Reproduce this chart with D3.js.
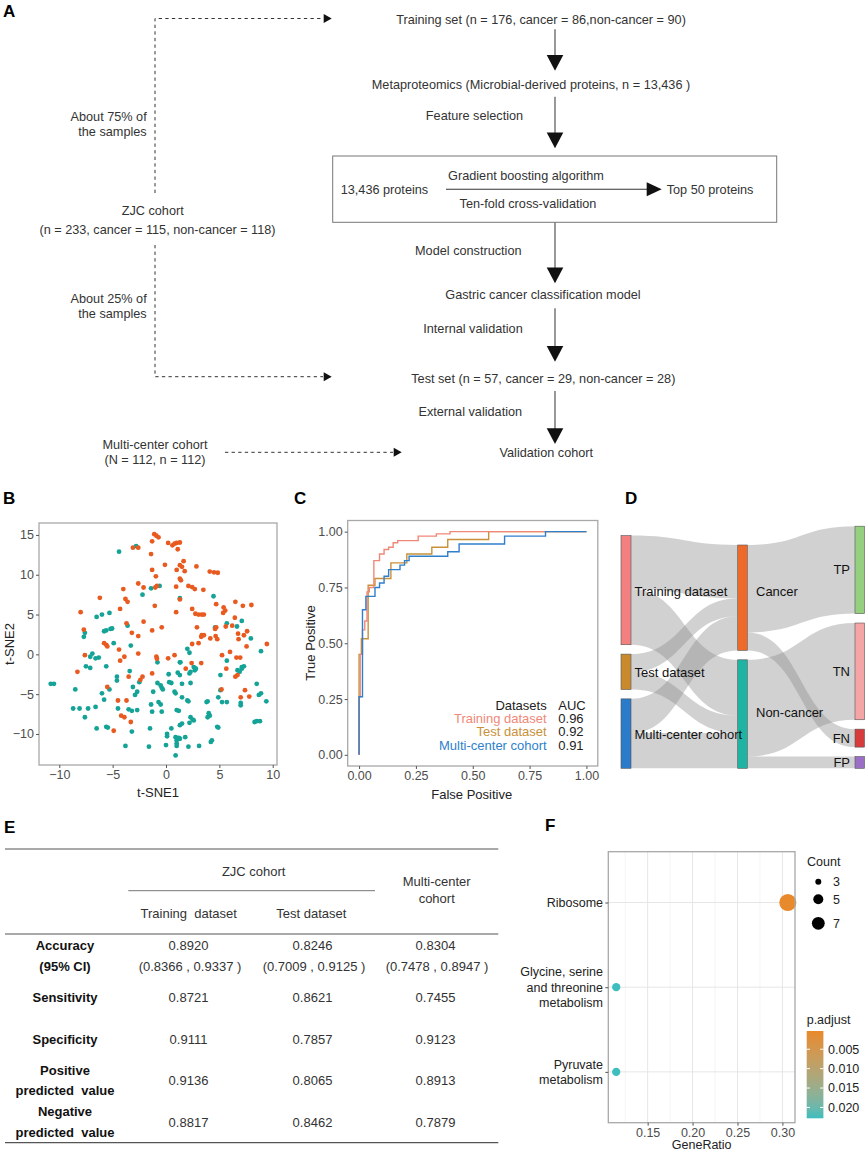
<!DOCTYPE html>
<html><head><meta charset="utf-8">
<script src="https://cdn.jsdelivr.net/npm/d3@7"></script>
<style>
body{margin:0;background:#fff}
svg{display:block}
text{font-family:"Liberation Sans",Arial,Helvetica,sans-serif;white-space:pre}
</style>
</head><body>
<svg id="c" width="865" height="1153"></svg>
<script>
// ---------------- DATA ----------------
// Panel A flowchart texts
const flowMain = ["Training set (n = 176, cancer = 86,non-cancer = 90)",
  "Metaproteomics (Microbial-derived proteins, n = 13,436 )",
  "Gastric cancer classification model",
  "Test set (n = 57, cancer = 29, non-cancer = 28)",
  "Validation cohort"];
const flowSide = ["Feature selection","Model construction","Internal validation","External validation"];
const boxTexts = ["13,436 proteins","Gradient boosting algorithm","Ten-fold cross-validation","Top 50 proteins"];
const cohortTexts = [["About 75% of","the samples"],["ZJC cohort","(n = 233, cancer = 115, non-cancer = 118)"],["About 25% of","the samples"],["Multi-center cohort","(N = 112, n = 112)"]];

// Panel B t-SNE
const tsneCancer = [
[-1.1,15.1],[-0.9,14.9],[-0.7,14.7],[-1.3,14.2],[-3.1,13.4],[-2.6,13.4],[0.2,14.0],[0.6,13.7],[0.8,13.9],[1.0,14.0],[1.3,14.05],[1.1,13.2],[-1.4,12.6],
[1.65,11.7],[1.3,11.2],[1.5,11.0],[1.75,10.45],[1.0,10.6],[-0.1,11.25],[2.85,11.05],[-1.3,10.6],[-0.95,9.8],[1.3,9.5],[1.4,9.3],[4.1,10.4],[4.5,10.3],[4.85,10.25],
[-4.0,8.2],[-2.6,8.9],[-2.1,8.4],[-0.85,8.6],[-1.0,8.4],[0.95,8.5],[2.1,8.6],[2.45,8.45],[2.7,8.2],[3.5,8.1],[-6.2,7.1],[-3.8,6.95],[-3.6,6.6],[1.3,6.9],[-1.05,6.1],[-4.3,5.7],[-8.0,5.3],[0.95,5.3],[2.45,5.7],[2.75,5.1],[3.05,5.0],[3.35,5.0],[3.55,5.0],[4.7,6.3],[5.4,5.9],[5.55,5.5],[5.35,5.2],[6.5,6.6],[7.2,6.1],[8.0,6.2],[6.45,4.6],
[-7.7,3.1],[-7.6,-0.1],[-5.8,1.4],[-5.6,1.2],[-5.5,1.0],[-4.4,0.6],[-3.9,-0.3],[-4.3,-0.8],[-3.7,3.9],[-3.2,2.7],[-2.6,2.3],[-2.1,4.1],[-2.6,0.1],[-1.3,3.0],[-0.4,3.4],[-0.9,-0.3],[-0.85,-0.55],[0.2,-0.5],[0.8,-0.1],
[4.7,3.4],[4.6,3.2],[2.9,3.4],[7.6,2.9],[7.3,2.4],[6.8,1.9],[3.35,2.4],[3.55,2.4],[3.3,2.2],[4.15,2.0],[4.65,2.3],[4.8,1.9],[2.45,1.3],[3.05,1.4],[9.45,1.3],[5.25,-0.1],[6.0,0.3],[6.6,-0.4],[6.95,-0.4],[5.65,-1.8],[6.5,-2.8],[6.7,-2.6],[7.0,-5.4],[7.4,-4.5],[7.8,-5.3],[5.2,-4.4],[1.85,-1.8],[2.4,-1.1],[3.3,-1.1],
[-8.3,-2.2],[-5.5,-4.1],[-4.5,-5.8],[-3.7,-5.8],[-4.2,-7.7],[-3.9,-7.9],[-3.3,-8.5],[-4.9,-9.6],[-3.5,-2.8],[-2.4,-3.2],[-2.2,-2.8],[-1.3,-2.4],[7.55,1.0],[6.75,2.6],[6.2,3.6],[5.6,3.5]
];
const tsneNonCancer = [
[-2.8,13.6],[-4.4,12.9],[-1.4,8.3],[-0.6,8.6],[-2.2,7.5],[4.45,7.3],[1.3,7.05],
[-6.5,4.7],[-6.0,5.0],[-5.3,5.2],[-5.6,3.0],[-5.2,3.2],[-5.05,3.25],[-5.8,2.9],[-3.6,3.6],[-7.7,2.2],[-7.6,2.7],[-4.9,1.4],[-3.3,1.1],[-6.9,0.1],[-7.1,-0.3],[-6.6,-0.5],[-6.3,-0.4],
[-7.5,-1.5],[-7.1,-1.7],[-5.6,-1.5],[-8.5,-4.4],[-10.8,-3.7],[-10.5,-3.7],[-8.7,-6.8],[-8.1,-6.8],[-7.6,-7.9],[-7.3,-6.8],[-6.6,-6.6],[-6.5,-9.3],[-5.3,-4.4],[-6.0,-4.9],[-5.8,-5.7],[-5.6,-9.1],[-5.45,-9.2],[-4.5,-6.8],[-4.6,-2.8],[-4.6,-3.3],[-3.8,-11.5],[-3.4,-2.1],[-3.5,-6.9],[-3.2,-7.1],[-3.2,-9.7],[-3.1,-4.1],[-2.9,-5.1],[-2.7,-4.7],[-2.7,-7.0],[-2.5,-3.5],[-1.6,-11.6],[-1.5,-9.3],[-1.3,-7.2],[-1.4,-6.3],[-1.2,-4.7],[-0.8,-1.0],
[-0.8,-3.6],[-0.5,-3.9],[-0.4,-4.2],[-0.3,-4.4],[-0.7,-6.0],[-0.5,-6.3],[-0.4,-7.2],[0.1,-10.0],[0.1,-10.3],[0.0,-11.4],[0.5,-9.3],[0.25,-2.5],[0.3,-3.5],[0.5,-3.6],[0.8,-4.7],[0.9,-4.9],[0.9,-10.4],[1.0,-10.8],[1.0,-11.2],[1.0,-11.5],[0.9,-12.7],[1.2,-10.5],[1.3,-10.6],[1.8,-10.4],[1.3,-8.9],[1.5,-8.7],[1.0,-7.0],[1.2,-7.1],[1.1,-2.3],[1.3,-2.6],[1.5,-3.7],[1.3,-1.0],[1.5,-5.4],[2.0,-5.8],[2.1,-5.9],[2.2,-2.4],[2.3,-2.2],[2.3,-3.6],[2.1,-11.6],[2.3,-7.9],[2.5,-8.2],[2.6,-8.3],[2.2,-8.6],[2.8,-1.8],[2.7,-2.0],[3.1,-11.5],[3.8,-6.0],[3.9,-5.9],[4.0,-7.4],[4.1,-7.7],[3.9,-7.9],[4.2,-11.0],[4.3,-10.8],[4.8,-9.1],[4.9,-9.2],[4.9,-5.4],[5.1,-4.5],[5.1,-2.6],[5.25,-6.0],[5.7,-6.0],[5.7,-0.8],[6.7,-2.0],[6.9,-2.2],[7.1,-1.8],[7.3,-1.5],[7.0,-6.1],[7.0,-6.4],[8.3,-8.5],[8.5,-8.4],[8.8,-8.4],[8.5,-3.7],[8.7,-5.1],[8.9,-4.9],[9.4,-5.9],
[2.0,0.7],[2.2,0.2],[8.9,0.4],[7.95,2.0],[5.7,3.9],[6.65,3.5],[7.1,4.2],[4.6,3.4],[1.35,-1.0],[2.6,-1.6],[2.75,-1.8],[7.1,-1.6]
];
const tsneTicks = [-10,-5,0,5,10,15];

// Panel C ROC
const rocNames = ["Training dataset","Test dataset","Multi-center cohort"];
const rocAUC = ["0.96","0.92","0.91"];
const rocTraining = [[0,0],[0,0.26],[0.005,0.26],[0.005,0.45],[0.015,0.45],[0.015,0.56],[0.025,0.56],[0.025,0.6],[0.035,0.6],[0.035,0.73],[0.045,0.73],[0.045,0.75],[0.065,0.75],[0.065,0.87],[0.09,0.87],[0.09,0.9],[0.11,0.9],[0.11,0.92],[0.13,0.92],[0.13,0.93],[0.15,0.93],[0.15,0.95],[0.17,0.95],[0.17,0.96],[0.26,0.96],[0.26,0.98],[0.34,0.98],[0.34,0.99],[0.4,0.99],[0.4,1],[1,1]];
const rocTest = [[0,0],[0,0.45],[0.01,0.45],[0.01,0.52],[0.04,0.52],[0.04,0.76],[0.07,0.76],[0.07,0.79],[0.14,0.79],[0.14,0.86],[0.21,0.86],[0.21,0.9],[0.32,0.9],[0.32,0.93],[0.39,0.93],[0.39,0.965],[0.57,0.965],[0.57,1],[1,1]];
const rocMulti = [[0,0],[0,0.26],[0.015,0.26],[0.015,0.65],[0.03,0.65],[0.03,0.71],[0.07,0.71],[0.07,0.75],[0.09,0.75],[0.09,0.77],[0.11,0.77],[0.11,0.8],[0.13,0.8],[0.13,0.83],[0.18,0.83],[0.18,0.85],[0.2,0.85],[0.2,0.87],[0.22,0.87],[0.22,0.89],[0.39,0.89],[0.39,0.91],[0.44,0.91],[0.44,0.945],[0.64,0.945],[0.64,0.98],[0.82,0.98],[0.82,1],[1,1]];
const rocTicks = [0,0.25,0.5,0.75,1];

// Panel D Sankey
const sDatasets = ["Training dataset","Test dataset","Multi-center cohort"];
const sStatus = ["Cancer","Non-cancer"];
const sOutcome = ["TP","TN","FN","FP"];
const cancerCounts = [86,29,55];
const nonCancerCounts = [90,28,57];
const tpCounts = [75,25,41];
const fnCounts = [11,4,14];
const tnCounts = [82,22,52];
const fpCounts = [8,6,5];

// Panel E table
const tableCols = ["Training  dataset","Test dataset"];
const metricLabels = [["Accuracy","(95% CI)"],["Sensitivity"],["Specificity"],["Positive","predicted  value"],["Negative","predicted  value"]];
const trainingVals = ["0.8920","0.8721","0.9111","0.9136","0.8817"];
const testVals = ["0.8246","0.8621","0.7857","0.8065","0.8462"];
const multiVals = ["0.8304","0.7455","0.9123","0.8913","0.7879"];
const accuracyCI = ["(0.8366 , 0.9337 )","(0.7009 , 0.9125 )","(0.7478 , 0.8947 )"];

// Panel F enrichment
const pathways = [["Ribosome"],["Glycine, serine","and threonine","metabolism"],["Pyruvate","metabolism"]];
const geneRatio = [0.306,0.115,0.115];
const geneCount = [11,4,4];
const pAdjust = [0.0003,0.0228,0.0228];
const ratioTicks = [0.15,0.20,0.25,0.30];
const countBreaks = [3,5,7];
const pTicks = [0.005,0.010,0.015,0.020];

// ---------------- DRAW ----------------
const svg = d3.select("#c");
svg.append("rect").attr("width",865).attr("height",1153).attr("fill","#fff");

function txt(g,x,y,s,o={}){
  return g.append("text").attr("x",x).attr("y",y).attr("dy","0.35em")
    .attr("text-anchor",o.anchor||"start").attr("font-size",o.size||12)
    .attr("font-weight",o.weight||"normal").attr("fill",o.fill||"#333").text(s);
}
function label(x,y,s){ txt(svg,x,y,s,{size:17,weight:"bold",fill:"#000"}); }

// ===== Panel A =====
const A = svg.append("g");
const fa = 12.7;
label(3,11,"A");
const mainPos = [[541,19.3],[531,85],[543,295],[543.3,378.3],[546.3,452.7]];
flowMain.forEach((s,i)=>txt(A,mainPos[i][0],mainPos[i][1],s,{anchor:"middle",size:fa}));
const sidePos = [[474.5,116],[468.3,250.7],[473,329],[470.3,411.7]];
flowSide.forEach((s,i)=>txt(A,sidePos[i][0],sidePos[i][1],s,{anchor:"middle",size:fa}));
const vArrows = [[29.3,70.7],[96.7,148.3],[222.3,283.3],[308.3,361.7],[391,444]];
const ax = 555;
vArrows.forEach(([y0,y1])=>{
  A.append("line").attr("x1",ax).attr("x2",ax).attr("y1",y0).attr("y2",y1-14).attr("stroke","#444").attr("stroke-width",1.1);
  A.append("path").attr("d",`M${ax-8.3},${y1-15.7}L${ax+8.3},${y1-15.7}L${ax},${y1}Z`).attr("fill","#111");
});
A.append("rect").attr("x",332.7).attr("y",156).attr("width",444).attr("height",66.3).attr("fill","none").attr("stroke","#777").attr("stroke-width",1);
txt(A,340.7,190,boxTexts[0],{size:fa});
txt(A,526,175.7,boxTexts[1],{anchor:"middle",size:fa});
txt(A,528,203.3,boxTexts[2],{anchor:"middle",size:fa});
txt(A,666.7,190,boxTexts[3],{size:fa});
A.append("line").attr("x1",446).attr("x2",648).attr("y1",189.3).attr("y2",189.3).attr("stroke","#333").attr("stroke-width",1.1);
A.append("path").attr("d","M646.7,182.3L661.7,189.3L646.7,196.3Z").attr("fill","#111");
// dashed
const dash = "3.3,3.3";
function dashedArrow(d, tipX, tipY){
  A.append("path").attr("d",d).attr("fill","none").attr("stroke","#333").attr("stroke-width",1).attr("stroke-dasharray",dash);
  A.append("path").attr("d",`M${tipX-8},${tipY-4.5}L${tipX},${tipY}L${tipX-8},${tipY+4.5}Z`).attr("fill","#111");
}
dashedArrow("M155,193V18.5H323",331.7,18.5);
dashedArrow("M155,245V376.7H323",331.7,376.7);
dashedArrow("M225,452.3H393",401.7,452.3);
txt(A,146.7,116.7,cohortTexts[0][0],{anchor:"end",size:fa});
txt(A,146.7,131.7,cohortTexts[0][1],{anchor:"end",size:fa});
txt(A,152.7,211,cohortTexts[1][0],{anchor:"middle",size:fa});
txt(A,157.5,230,cohortTexts[1][1],{anchor:"middle",size:fa});
txt(A,146.7,299,cohortTexts[2][0],{anchor:"end",size:fa});
txt(A,146.7,314,cohortTexts[2][1],{anchor:"end",size:fa});
txt(A,155,444.3,cohortTexts[3][0],{anchor:"middle",size:fa});
txt(A,155,460,cohortTexts[3][1],{anchor:"middle",size:fa});

// ===== Panel B =====
label(3,498,"B");
const B = svg.append("g");
const bx = d3.scaleLinear([-11.9,10.4],[39,277]);
const by = d3.scaleLinear([-13.9,16.5],[765,523]);
B.append("rect").attr("x",39).attr("y",523).attr("width",238).attr("height",242).attr("fill","#fff");
B.selectAll("circle.nc").data(tsneNonCancer).join("circle").attr("class","nc")
  .attr("cx",d=>bx(d[0])).attr("cy",d=>by(d[1])).attr("r",2.4).attr("fill","#14A396");
B.selectAll("circle.ca").data(tsneCancer).join("circle").attr("class","ca")
  .attr("cx",d=>bx(d[0])).attr("cy",d=>by(d[1])).attr("r",2.4).attr("fill","#E85A1F");
B.append("rect").attr("x",39).attr("y",523).attr("width",238).attr("height",242).attr("fill","none").attr("stroke","#A8A8A8").attr("stroke-width",1.3);
function styleAxis(g){
  g.select(".domain").remove();
  g.selectAll(".tick line").attr("stroke","#555");
  g.selectAll(".tick text").attr("fill","#4D4D4D").attr("font-size",12.5).attr("font-family","Liberation Sans, Arial, sans-serif");
}
B.append("g").attr("transform","translate(39,0)").call(d3.axisLeft(by).tickValues(tsneTicks).tickSize(3).tickPadding(2)).call(styleAxis);
B.append("g").attr("transform","translate(0,765)").call(d3.axisBottom(bx).tickValues([-10,-5,0,5,10]).tickSize(3).tickPadding(2)).call(styleAxis);
txt(B,158,792,"t-SNE1",{anchor:"middle",size:13,fill:"#222"});
B.append("text").attr("transform","translate(9,644) rotate(-90)").attr("dy","0.35em").attr("text-anchor","middle").attr("font-size",13).attr("fill","#222").text("t-SNE2");

// ===== Panel C =====
label(294,498,"C");
const C = svg.append("g");
const cx = d3.scaleLinear([-0.05,1.05],[347.7,597.8]);
const cy = d3.scaleLinear([-0.05,1.05],[766,520.5]);
C.append("rect").attr("x",347.7).attr("y",520.5).attr("width",250.1).attr("height",245.5).attr("fill","#fff").attr("stroke","#A8A8A8").attr("stroke-width",1.3);
const rocLine = d3.line().x(d=>cx(d[0])).y(d=>cy(d[1]));
const rocColors = ["#F0887A","#C9913A","#2F7FCB"];
[[rocTest,1],[rocTraining,0],[rocMulti,2]].forEach(([d,i])=>{
  C.append("path").attr("d",rocLine(d)).attr("fill","none").attr("stroke",rocColors[i]).attr("stroke-width",1.4);
});
C.append("g").attr("transform","translate(347.7,0)").call(d3.axisLeft(cy).tickValues(rocTicks).tickFormat(d3.format(".2f")).tickSize(3).tickPadding(2)).call(styleAxis);
C.append("g").attr("transform","translate(0,766)").call(d3.axisBottom(cx).tickValues(rocTicks).tickFormat(d3.format(".2f")).tickSize(3).tickPadding(2)).call(styleAxis);
txt(C,471.7,794,"False Positive",{anchor:"middle",size:13,fill:"#222"});
C.append("text").attr("transform","translate(310,643) rotate(-90)").attr("dy","0.35em").attr("text-anchor","middle").attr("font-size",13).attr("fill","#222").text("True Positive");
txt(C,546.7,705,"Datasets",{anchor:"end",size:13,fill:"#222"});
txt(C,558.3,705,"AUC",{size:13,fill:"#222"});
rocNames.forEach((n,i)=>{
  txt(C,546.7,718.3+i*13.4,n,{anchor:"end",size:13,fill:rocColors[i]});
  txt(C,558.3,718.3+i*13.4,rocAUC[i],{size:13,fill:"#222"});
});

// ===== Panel D Sankey =====
label(625,498,"D");
const D = svg.append("g");
const hs = d3.scaleLinear([0,1],[0,0.62]);
const bottom = 768.3, gap = 9.4;
function stackCol(counts){
  let y = bottom; const out=[];
  for(let i=counts.length-1;i>=0;i--){ const h=hs(counts[i]); out[i]={y0:y-h,y1:y}; y-=h+gap; }
  return out;
}
const dsTotals = sDatasets.map((d,i)=>cancerCounts[i]+nonCancerCounts[i]);
const stTotals = [d3.sum(cancerCounts), d3.sum(nonCancerCounts)];
const ocTotals = [d3.sum(tpCounts), d3.sum(tnCounts), d3.sum(fnCounts), d3.sum(fpCounts)];
const colL = stackCol(dsTotals), colM = stackCol(stTotals), colR = stackCol(ocTotals);
const xL=[621,631], xM=[737.7,747.3], xR=[855,864.5];
function band(x0,s0,s1,x1,t0,t1){
  const xm=(x0+x1)/2;
  return `M${x0},${s0}C${xm},${s0} ${xm},${t0} ${x1},${t0}L${x1},${t1}C${xm},${t1} ${xm},${s1} ${x0},${s1}Z`;
}
const flowG = D.append("g");
function drawFlow(x0,s0,x1,t0,h){
  flowG.append("path").attr("d",band(x0,s0,s0+h,x1,t0,t0+h)).attr("fill","#8C8C8C").attr("fill-opacity",0.4);
}
// stage 1
const inM = colM.map(d=>d.y0);
[cancerCounts,nonCancerCounts].forEach((arr,j)=>{
  arr.forEach((c,i)=>{
    const h=hs(c);
    const s0 = colL[i].y0 + (j===0?0:hs(cancerCounts[i]));
    drawFlow(xL[1],s0,xM[0],inM[j],h);
    inM[j]+=h;
  });
});
// stage 2
const outM = colM.map(d=>d.y0);
const inR = colR.map(d=>d.y0);
const stage2 = [[0,0,d3.sum(tpCounts)],[0,2,d3.sum(fnCounts)],[1,1,d3.sum(tnCounts)],[1,3,d3.sum(fpCounts)]];
stage2.forEach(([m,r,c])=>{
  const h=hs(c);
  drawFlow(xM[1],outM[m],xR[0],inR[r],h);
  outM[m]+=h; inR[r]+=h;
});
const dsColors=["#F28080","#C98A2E","#2B7BCB"], stColors=["#EE6A2B","#1FB3A3"], ocColors=["#95D07F","#F5A5A5","#D73B3B","#9B6FC6"];
function nodes(col,xs,colors){
  col.forEach((d,i)=>D.append("rect").attr("x",xs[0]).attr("y",d.y0).attr("width",xs[1]-xs[0]).attr("height",d.y1-d.y0)
    .attr("fill",colors[i]).attr("stroke","#555").attr("stroke-width",0.6));
}
nodes(colL,xL,dsColors); nodes(colM,xM,stColors); nodes(colR,xR,ocColors);
sDatasets.forEach((n,i)=>txt(D,634.5,(colL[i].y0+colL[i].y1)/2+1,n,{size:13,fill:"#111"}));
sStatus.forEach((n,i)=>txt(D,756,(colM[i].y0+colM[i].y1)/2 - (i===0?6:2),n,{size:13,fill:"#111"}));
sOutcome.forEach((n,i)=>txt(D,850,(colR[i].y0+colR[i].y1)/2,n,{anchor:"end",size:13,fill:"#111"}));

// ===== Panel E table =====
label(4,827,"E");
const E = svg.append("g");
const fe = 13;
function hline(y,x0,x1,w,c){ E.append("line").attr("x1",x0).attr("x2",x1).attr("y1",y).attr("y2",y).attr("stroke",c||"#555").attr("stroke-width",w||1.2); }
hline(849,5,498.3);
hline(890.7,128.3,375,1,"#777");
hline(934,5,498.3);
hline(1142.7,5,498.3);
const colX = [188.5,312.5,435.5];
txt(E,253.7,871,"ZJC cohort",{anchor:"middle",size:fe});
txt(E,436.7,881.7,"Multi-center",{anchor:"middle",size:fe});
txt(E,436.7,898.3,"cohort",{anchor:"middle",size:fe});
tableCols.forEach((c,i)=>txt(E,[188.7,311.3][i],913.3,c,{anchor:"middle",size:fe}));
const labelYs = [[945.7,966.7],[997.3],[1039],[1070,1090.7],[1111.7,1132.7]];
const valueYs = [945.7,997.3,1039,1080,1122.7];
metricLabels.forEach((ls,i)=>ls.forEach((l,k)=>txt(E,65,labelYs[i][k],l,{anchor:"middle",weight:"bold",fill:"#111",size:fe})));
[trainingVals,testVals,multiVals].forEach((vals,c)=>{
  vals.forEach((v,i)=>txt(E,colX[c],valueYs[i],v,{anchor:"middle",size:fe}));
  txt(E,colX[c]+1.5,966.7,accuracyCI[c],{anchor:"middle",size:fe});
});

// ===== Panel F =====
label(545,825,"F");
const F = svg.append("g");
const fx = d3.scaleLinear([0.1062,0.314],[608.3,795]);
const fy = d3.scalePoint(pathways.map(p=>p.join(" ")),[851.7,1122.7]).padding(0.6);
F.append("rect").attr("x",608.3).attr("y",851.7).attr("width",186.7).attr("height",271).attr("fill","#fff");
[0.125,0.175,0.225,0.275].forEach(v=>F.append("line").attr("x1",fx(v)).attr("x2",fx(v)).attr("y1",851.7).attr("y2",1122.7).attr("stroke","#EEEEEE").attr("stroke-width",0.6));
ratioTicks.forEach(v=>F.append("line").attr("x1",fx(v)).attr("x2",fx(v)).attr("y1",851.7).attr("y2",1122.7).attr("stroke","#E6E6E6").attr("stroke-width",1));
fy.domain().forEach(k=>F.append("line").attr("x1",608.3).attr("x2",795).attr("y1",fy(k)).attr("y2",fy(k)).attr("stroke","#E6E6E6").attr("stroke-width",1));
const rScale = d3.scaleLinear([3,11],[9,73]);
const cScale = d3.scaleLinear(d3.extent(pAdjust),["#E8892B","#3DBDBD"]).interpolate(d3.interpolateLab);
pathways.forEach((p,i)=>F.append("circle").attr("cx",fx(geneRatio[i])).attr("cy",fy(p.join(" "))).attr("r",Math.sqrt(rScale(geneCount[i]))).attr("fill",cScale(pAdjust[i])));
F.append("rect").attr("x",608.3).attr("y",851.7).attr("width",186.7).attr("height",271).attr("fill","none").attr("stroke","#A8A8A8").attr("stroke-width",1.3);
F.append("g").attr("transform","translate(0,1122.7)").call(d3.axisBottom(fx).tickValues(ratioTicks).tickFormat(d3.format(".2f")).tickSize(3).tickPadding(2)).call(styleAxis);
F.append("g").attr("transform","translate(608.3,0)").call(d3.axisLeft(fy).tickSize(3).tickFormat("")).call(styleAxis);
pathways.forEach(p=>{
  const yc = fy(p.join(" "));
  const n=p.length;
  p.forEach((line,k)=>txt(F,603,yc+(k-(n-1)/2)*15.2,line,{anchor:"end",fill:"#222",size:12.5}));
});
txt(F,701.7,1145,"GeneRatio",{anchor:"middle",size:12.5,fill:"#222"});
// Count legend
txt(F,807,862,"Count",{size:12.5,fill:"#222"});
const legY=[881.7,899.3,923.3];
countBreaks.forEach((c,i)=>{
  F.append("circle").attr("cx",818.3).attr("cy",legY[i]).attr("r",Math.sqrt(rScale(c))).attr("fill","#000");
  txt(F,833,legY[i],String(c),{fill:"#222",size:12.5});
});
// colorbar
txt(F,806.7,1020,"p.adjust",{size:12.5,fill:"#222"});
const cbY = d3.scaleLinear(d3.extent(pAdjust),[1031,1118.3]);
const defs = svg.append("defs");
const grad = defs.append("linearGradient").attr("id","pg").attr("x1",0).attr("x2",0).attr("y1",0).attr("y2",1);
d3.range(0,1.0001,0.1).forEach(t=>grad.append("stop").attr("offset",t).attr("stop-color",cScale(cScale.domain()[0]+t*(cScale.domain()[1]-cScale.domain()[0]))));
F.append("rect").attr("x",806.7).attr("y",1031).attr("width",16.7).attr("height",87.3).attr("fill","url(#pg)");
pTicks.forEach(v=>{
  const y=cbY(v);
  F.append("line").attr("x1",806.7).attr("x2",810).attr("y1",y).attr("y2",y).attr("stroke","#fff").attr("stroke-width",1);
  F.append("line").attr("x1",820.1).attr("x2",823.4).attr("y1",y).attr("y2",y).attr("stroke","#fff").attr("stroke-width",1);
  txt(F,828,y,d3.format(".3f")(v),{fill:"#222",size:12.5});
});
</script>
</body></html>
